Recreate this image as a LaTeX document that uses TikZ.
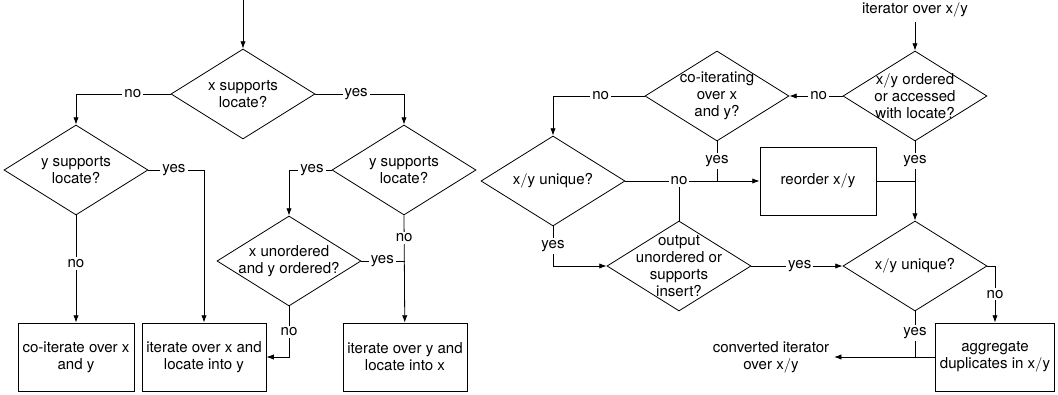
\documentclass[tikz,border=0pt]{standalone}
\usepackage{fontspec}
\setmainfont{TeX Gyre Heros}
\usepackage{tikz}
\usetikzlibrary{shapes.geometric,arrows.meta}

\newcommand{\vx}{\ensuremath{\mathrm{x}}}
\newcommand{\vy}{\ensuremath{\mathrm{y}}}
\newcommand{\vxy}{\ensuremath{\mathrm{x}/\mathrm{y}}}

\begin{document}
\begin{tikzpicture}[x=0.75pt,y=-0.75pt,
	font=\fontsize{11.3}{12.8}\selectfont, line width=0.6pt,
	test/.style={shape=diamond, draw=black, align=center, inner sep=-12pt,
		minimum width=108pt, minimum height=67.5pt},
	act/.style={shape=rectangle, draw=black, align=center,
		minimum width=87pt, minimum height=51pt},
	lbl/.style={fill=white, inner sep=1.5pt},
	arr/.style={-{Latex[length=5.5pt,width=4pt]}}]
	
	\useasboundingbox (0,0) rectangle (1058,395);
	
	% left chart
	\coordinate (start) at (243, 0);
	\node[test] (xloc) at (243, 94)     {\vx{} supports\\locate?};
	\node[test] (yloc1) at (76, 170)    {\vy{} supports\\locate?};
	\node[test] (yloc2) at (404, 170)   {\vy{} supports\\locate?};
	\node[test] (order) at (289, 261)   {\vx{} unordered\\and \vy{} ordered?};
	\node[act] (coiter) at (76, 357)    {co-iterate over \vx\\and \vy};
	\node[act] (iterx) at (204, 357)    {iterate over \vx{} and\\locate into \vy};
	\node[act] (itery) at (405, 357)    {iterate over \vy{} and\\locate into \vx};
	
	\draw[arr] (start) -- (xloc);
	\draw[arr] (xloc.west) -| node[lbl, pos=0.2]{no} (yloc1.north);
	\draw[arr] (xloc.east) -| node[lbl, pos=0.23]{yes} (yloc2.north);
	\draw[arr] (yloc1.south) -- node[lbl, pos=0.45]{no} (coiter);
	\draw[arr] (yloc1.east) -| node[lbl, pos=0.23]{yes} (iterx.north);
	\draw[arr] (yloc2.south) -- node[lbl, pos=0.21]{no} (itery);
	\draw[arr] (yloc2.west) -| node[lbl, pos=0.23]{yes} (order.north);
	\draw (order.east) -- node[lbl, pos=0.48]{yes} (order.east -| itery.north);
	\draw[arr] (order.south) |- node[lbl, pos=0.25]{no} (iterx.east);
	
	% right chart
	\node (input) at (915, 10)          {iterator over \vxy};
	\node[test] (acc) at (915, 96)      {\vxy{} ordered\\or accessed\\with locate?};
	\node[test] (cois) at (717, 96)     {co-iterating\\over \vx\\and \vy?};
	\node[test] (uniq1) at (553, 181)   {\vxy{} unique?};
	\node[act] (reorder) at (818, 181)  {reorder \vxy};
	\node[test] (outp) at (679, 266)    {output\\unordered or\\supports\\insert?};
	\node[test] (uniq2) at (915, 266)   {\vxy{} unique?};
	\node[act] (aggr) at (995, 357)     {aggregate\\duplicates in \vxy};
	\node[align=center] (result) at (771, 357) {converted iterator\\over \vxy};
	
	\draw[arr] (input) -- (acc);
	\draw[arr] (acc.west) -- node[lbl, pos=0.45]{no} (cois.east);
	\draw[arr] (acc.south) -- node[lbl, pos=0.25]{yes} (uniq2.north);
	\draw[arr] (cois.west) -| node[lbl, pos=0.24]{no} (uniq1.north);
	\draw (cois.south) -- node[lbl, pos=0.5]{yes} (cois.south |- reorder.west);
	\draw (outp.north) -- (outp.north |- uniq1.east);
	\draw[arr] (uniq1.east) -- node[lbl, pos=0.4]{no} (reorder.west);
	\draw (reorder.east) -- (reorder.east -| uniq2.north);
	\draw[arr] (uniq1.south) |- node[lbl, pos=0.25]{yes} (outp.west);
	\draw[arr] (outp.east) -- node[lbl, pos=0.53]{yes} (uniq2.west);
	\draw[arr] (uniq2.east) -| node[lbl, pos=0.75]{no} (aggr.north);
	\draw (uniq2.south) -- node[lbl, pos=0.47]{yes} (uniq2.south |- aggr.west);
	\draw[arr] (aggr.west) -- (result.east);
	
\end{tikzpicture}
\end{document}
